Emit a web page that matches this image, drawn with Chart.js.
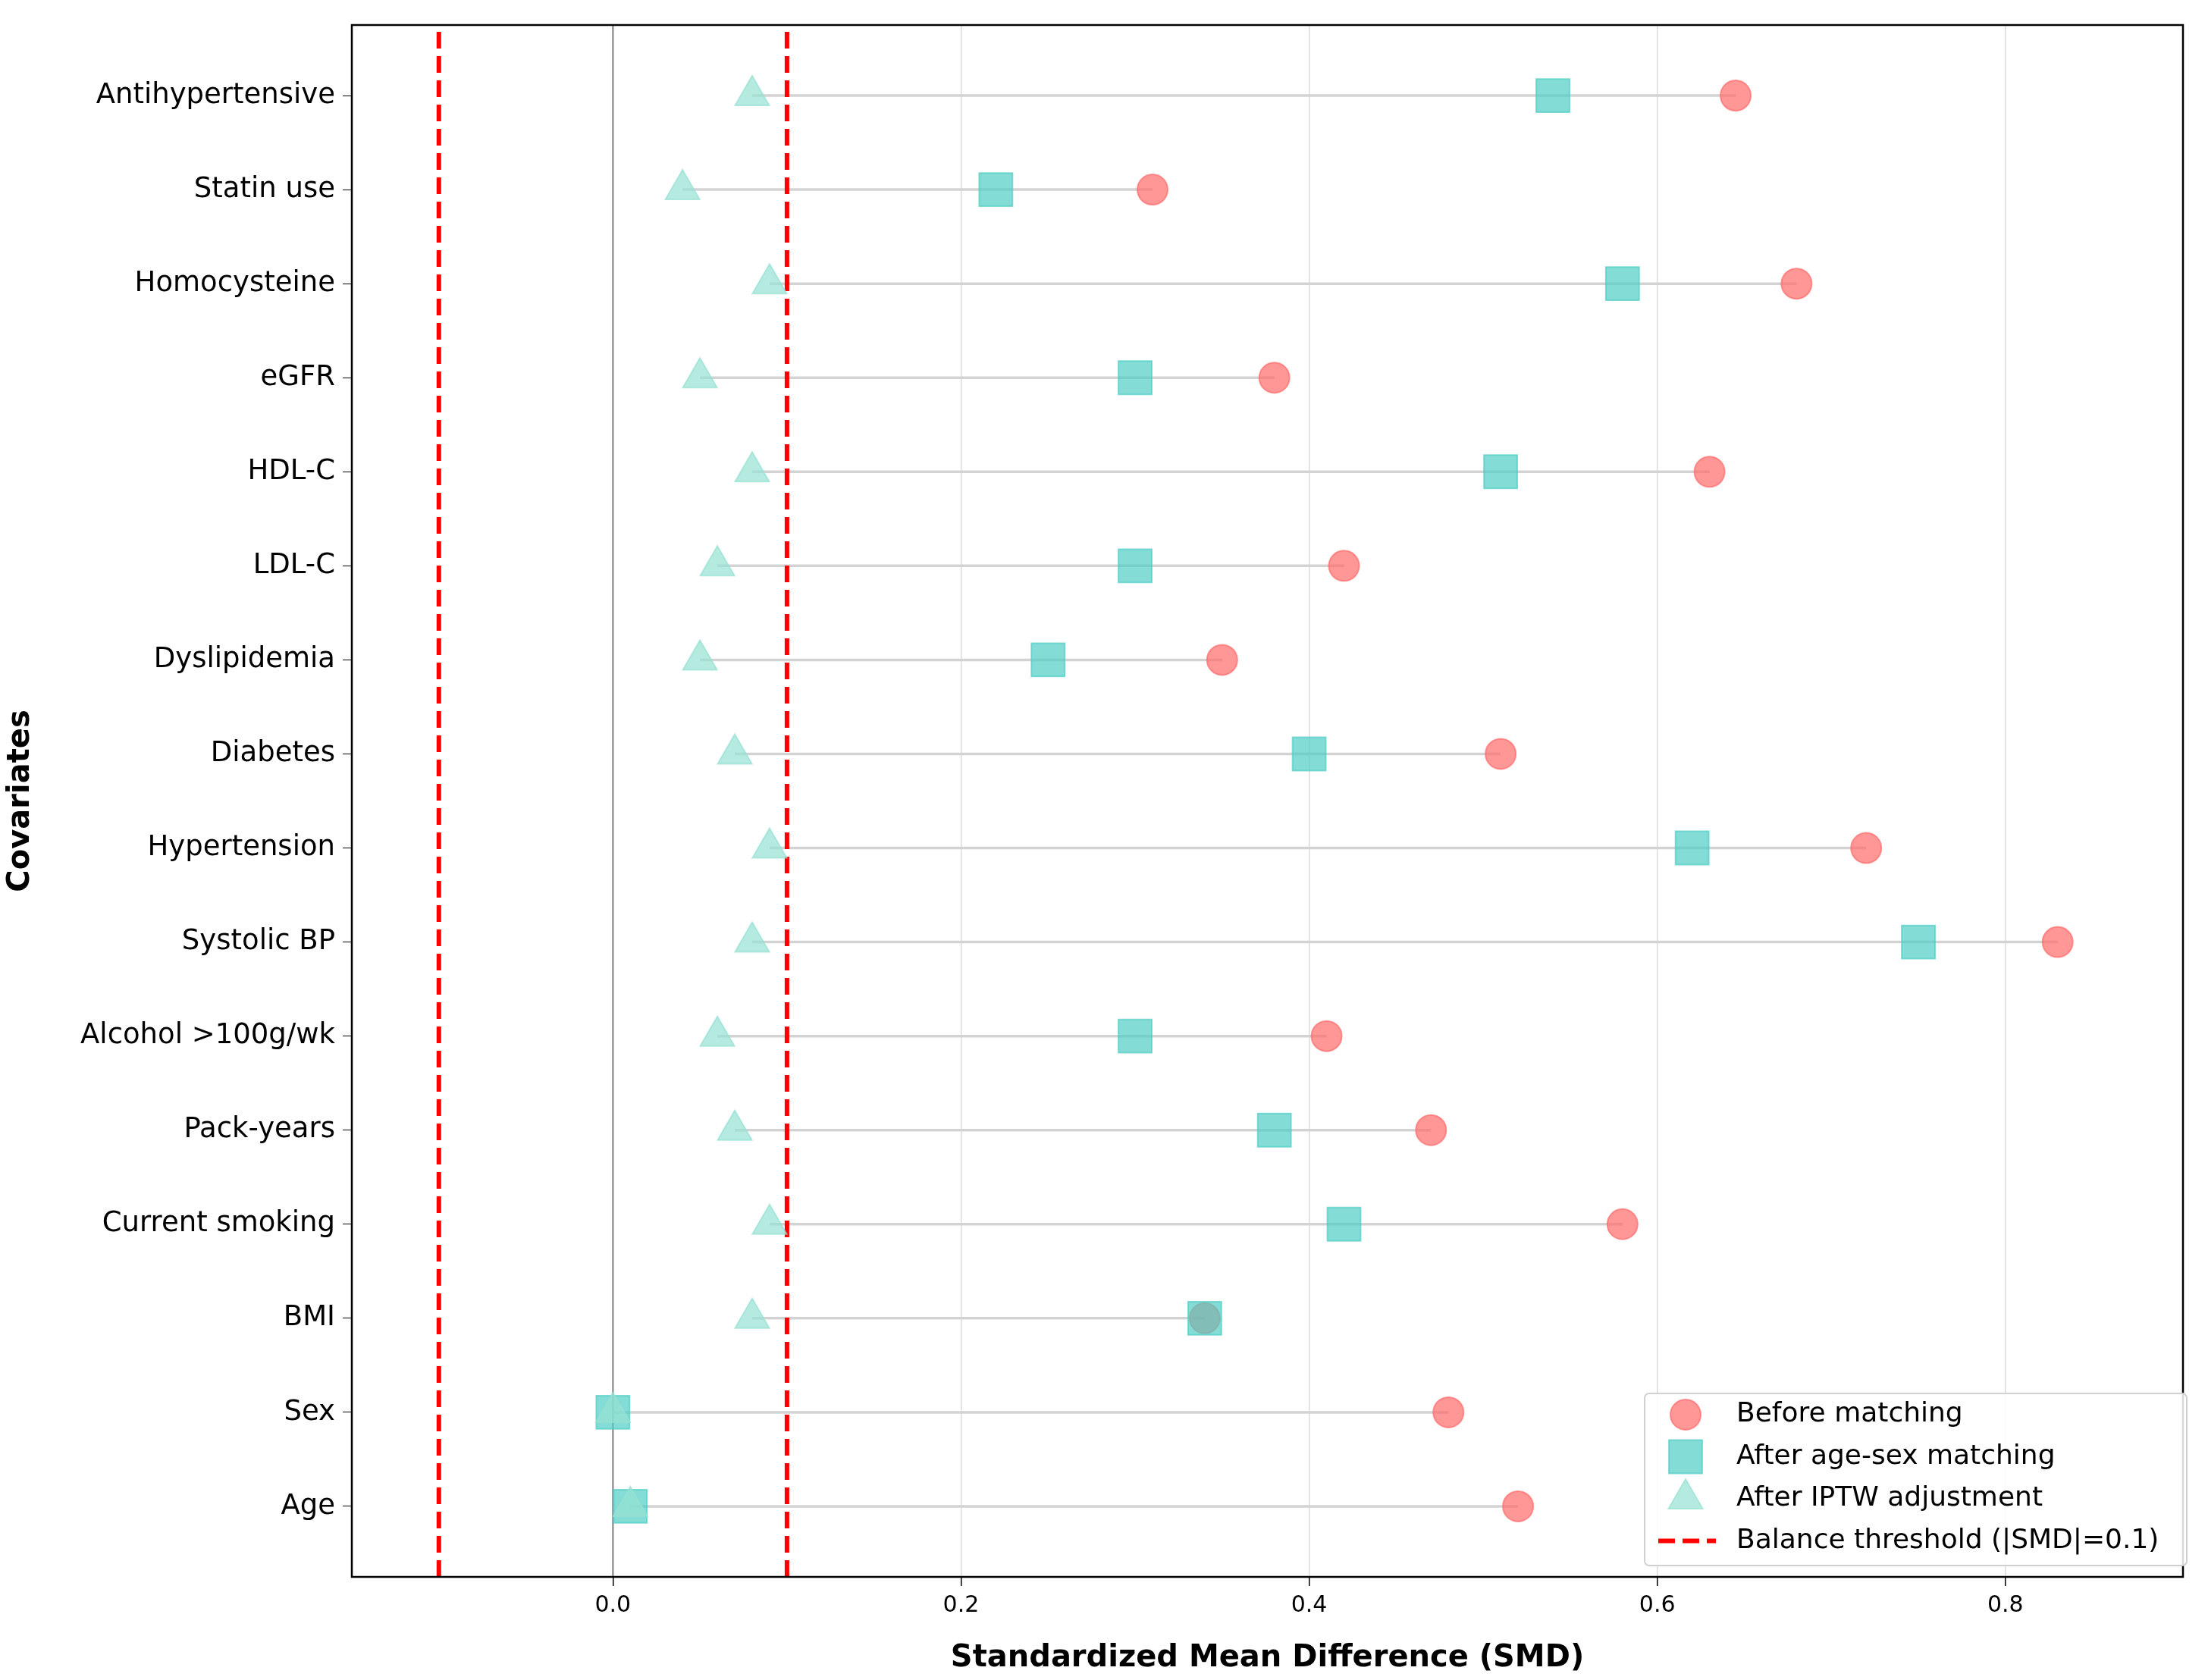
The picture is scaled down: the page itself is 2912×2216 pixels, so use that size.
<!DOCTYPE html>
<html>
<head>
<meta charset="utf-8">
<script src="https://cdn.jsdelivr.net/npm/chart.js@4.4.1/dist/chart.umd.min.js"></script>
<style>html,body{margin:0;padding:0;background:#fff}</style>
</head>
<body>
<canvas id="myChart" width="2912" height="2216"></canvas>
<script>
// covariates, bottom to top
let covariates=["Age","Sex","BMI","Current smoking","Pack-years","Alcohol >100g/wk","Systolic BP","Hypertension","Diabetes","Dyslipidemia","LDL-C","HDL-C","eGFR","Homocysteine","Statin use","Antihypertensive"];
let beforeMatching=[0.52,0.48,0.34,0.58,0.47,0.41,0.83,0.72,0.51,0.35,0.42,0.63,0.38,0.68,0.31,0.645];
let afterMatching=[0.01,0.00,0.34,0.42,0.38,0.30,0.75,0.62,0.40,0.25,0.30,0.51,0.30,0.58,0.22,0.54];
let afterIPTW=[0.01,0.00,0.08,0.09,0.07,0.06,0.08,0.09,0.07,0.05,0.06,0.08,0.05,0.09,0.04,0.08];
let xTicks=[0,0.2,0.4,0.6,0.8];
let threshold=0.1;

const yMin=-0.75, yMax=covariates.length-0.25;
let datasets=[];

// connecting lines
covariates.forEach((c,i)=>{
  let vals=[beforeMatching[i],afterMatching[i],afterIPTW[i]];
  datasets.push({type:'line',label:'_conn',data:[{x:Math.min(...vals),y:i},{x:Math.max(...vals),y:i}],
    borderColor:'#d3d3d3',borderWidth:3.5,pointRadius:0,order:10});
});
datasets.push({type:'line',label:'_zero',data:[{x:0,y:yMin},{x:0,y:yMax}],borderColor:'#999',borderWidth:2.5,pointRadius:0,order:11});
[-threshold,threshold].forEach(t=>{
  datasets.push({type:'line',label:'_thr',data:[{x:t,y:yMin},{x:t,y:yMax}],borderColor:'#ff0000',borderWidth:6,borderDash:[22,10],pointRadius:0,order:9});
});
datasets.push({type:'scatter',label:'Before matching',data:beforeMatching.map((v,i)=>({x:v,y:i})),
  pointStyle:'circle',pointRadius:20,backgroundColor:'rgba(255,107,107,0.7)',borderColor:'rgba(255,107,107,0.7)',borderWidth:2,order:3});
datasets.push({type:'scatter',label:'After age-sex matching',data:afterMatching.map((v,i)=>({x:v,y:i})),
  pointStyle:'rect',pointRadius:31,backgroundColor:'rgba(78,205,196,0.7)',borderColor:'rgba(78,205,196,0.7)',borderWidth:2,order:2});
datasets.push({type:'scatter',label:'After IPTW adjustment',data:afterIPTW.map((v,i)=>({x:v,y:i})),
  pointStyle:'triangle',pointRadius:26,backgroundColor:'rgba(149,225,211,0.7)',borderColor:'rgba(149,225,211,0.7)',borderWidth:2,order:1});

const frameLegend={
  id:'frameLegend',
  afterDraw(chart){
    const ctx=chart.ctx, a=chart.chartArea;
    ctx.save();
    ctx.strokeStyle='#000';ctx.lineWidth=2.5;
    ctx.strokeRect(a.left,a.top,a.right-a.left,a.bottom-a.top);
    // legend box
    const bx=2169,by=1838,bw=715,bh=227;
    ctx.fillStyle='rgba(255,255,255,0.85)';ctx.strokeStyle='#d0d0d0';ctx.lineWidth=2;
    ctx.beginPath();ctx.roundRect(bx,by,bw,bh,6);ctx.fill();ctx.stroke();
    const rows=[
      {t:'Before matching',s:'circle',r:20,c:'rgba(255,107,107,0.7)'},
      {t:'After age-sex matching',s:'rect',r:31,c:'rgba(78,205,196,0.7)'},
      {t:'After IPTW adjustment',s:'triangle',r:26,c:'rgba(149,225,211,0.7)'},
      {t:'Balance threshold (|SMD|=0.1)',s:'line'}
    ];
    ctx.font='36px "DejaVu Sans"';ctx.textBaseline='middle';
    rows.forEach((r,k)=>{
      const y=1866+k*55.5, x=2223;
      if(r.s==='line'){
        ctx.strokeStyle='#ff0000';ctx.lineWidth=6;ctx.setLineDash([22,10]);
        ctx.beginPath();ctx.moveTo(x-36,y);ctx.lineTo(x+40,y);ctx.stroke();ctx.setLineDash([]);
      } else {
        ctx.fillStyle=r.c;ctx.strokeStyle=r.c;ctx.lineWidth=2;
        Chart.helpers.drawPoint(ctx,{pointStyle:r.s,radius:r.r,borderWidth:2},x,y);
      }
      ctx.fillStyle='#000';ctx.fillText(r.t,2290,y);
    });
    ctx.restore();
  }
};

new Chart(document.getElementById('myChart'),{
  data:{datasets:datasets},
  options:{
    responsive:false,animation:false,devicePixelRatio:1,
    layout:{padding:{top:9,right:6,left:0,bottom:0}},
    plugins:{legend:{display:false},tooltip:{enabled:false}},
    scales:{
      x:{type:'linear',min:-0.15,max:0.902,
        afterBuildTicks:(axis)=>{axis.ticks=xTicks.map(v=>({value:v}));},
        afterFit:(s)=>{s.height=136;},
        ticks:{callback:(v)=>v.toFixed(1),color:'#000',font:{family:'DejaVu Sans',size:30},padding:8},
        grid:{color:'#dcdcdc',lineWidth:1.5,borderDash:[3,6],tickLength:12,tickColor:'#000',tickBorderDash:[]},
        border:{display:false},
        title:{display:true,text:'Standardized Mean Difference (SMD)',color:'#000',font:{family:'DejaVu Sans',size:40,weight:'bold'},padding:{top:6}}
      },
      y:{type:'linear',min:yMin,max:yMax,
        afterBuildTicks:(axis)=>{axis.ticks=covariates.map((c,i)=>({value:i}));},
        afterFit:(s)=>{s.width=464;},
        ticks:{callback:(v)=>covariates[v],color:'#000',font:{family:'DejaVu Sans',size:37},padding:10},
        grid:{drawOnChartArea:false,tickLength:12,tickColor:'#000'},
        border:{display:false},
        title:{display:true,text:'Covariates',color:'#000',font:{family:'DejaVu Sans',size:40,weight:'bold'},padding:{bottom:8}}
      }
    }
  },
  plugins:[frameLegend]
});
</script>
</body>
</html>
